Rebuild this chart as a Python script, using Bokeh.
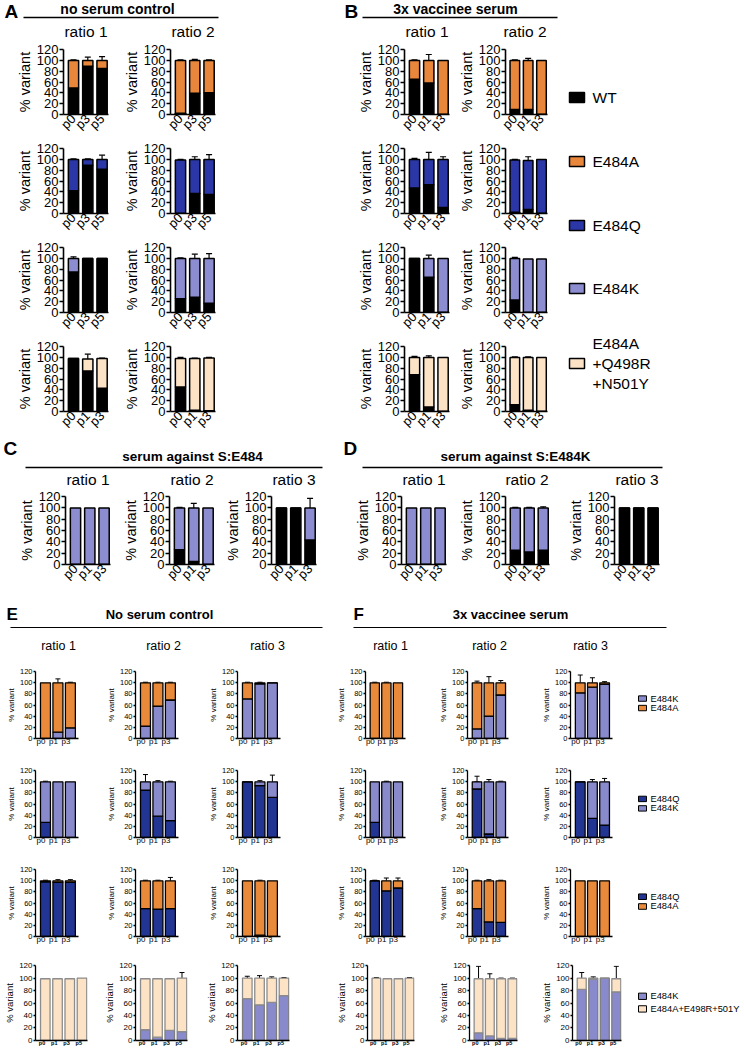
import math
from bokeh.plotting import figure
from bokeh.layouts import row, column
from bokeh.models import Range1d, FixedTicker, Whisker, TeeHead, ColumnDataSource
from bokeh.embed import file_html
from bokeh.resources import INLINE
from bokeh.core.properties import value

FONT = "Liberation Sans"

# ---------------- colours / names ----------------
COL = {"WT": "#000000", "E484A": "#E8863C", "E484Q": "#2B37A6",
       "E484K": "#8C8DD0", "TRIPLE": "#FCE3C6"}
COL_EF = {"E484A": "#E98A3B", "E484Q": "#233592", "E484K": "#898ACB",
          "TRIPLE": "#FCE3C6"}

LEGEND_AB = ["WT", "E484A", "E484Q", "E484K"]
LEGEND_AB_TRIPLE = ["E484A", "+Q498R", "+N501Y"]
LEGEND_EF = [["E484K", "E484A"], ["E484Q", "E484K"], ["E484Q", "E484A"],
             ["E484K", "E484A+E498R+501Y"]]

TITLES_AB = ["no serum control", "3x vaccinee serum"]
TITLES_CD = ["serum against S:E484", "serum against S:E484K"]
TITLES_EF = ["No serum control", "3x vaccinee serum"]
LETTERS = ["A", "B", "C", "D", "E", "F"]
RATIOS = ["ratio 1", "ratio 2", "ratio 3"]

LAB_035 = ["p0", "p3", "p5"]
LAB_013 = ["p0", "p1", "p3"]
LAB_0135 = ["p0", "p1", "p3", "p5"]

# ---------------- Panel A: no serum control (bottom = WT) ----------------
# rows: WT/E484A, WT/E484Q, WT/E484K, WT/triple
A1_wt = [[49, 89, 85], [42, 89, 82], [75, 100, 100], [98, 75, 43]]
A1_mut = [[51, 11, 15], [58, 11, 18], [25, 0, 0], [0, 22, 55]]
A1_sd_tot = [[1, 6, 7], [1, 1, 8], [3, 0, 0], [0, 9, 1]]
A1_sd_wt = [[2, 1, 5], [1, 1, 14], [5, 0, 0], [0, 9, 2]]
A2_wt = [[2, 39, 40], [0, 37, 35], [25, 28, 17], [45, 2, 1]]
A2_mut = [[98, 61, 60], [99, 63, 65], [75, 72, 83], [53, 96, 98]]
A2_sd_tot = [[1, 2, 1], [1, 5, 9], [1, 8, 9], [2, 1, 1]]
A2_sd_wt = [[1, 4, 2], [0, 6, 10], [1, 8, 9], [4, 1, 0]]

# ---------------- Panel B: 3x vaccinee serum (bottom = WT) ----------------
B1_wt = [[65, 58, 0], [47, 53, 11], [100, 65, 0], [68, 8, 0]]
B1_mut = [[35, 42, 100], [53, 47, 89], [0, 35, 100], [32, 92, 100]]
B1_sd_tot = [[1, 11, 0], [2, 13, 5], [0, 6, 0], [2, 3, 0]]
B1_sd_wt = [[1, 12, 0], [6, 14, 5], [0, 6, 0], [3, 5, 0]]
B2_wt = [[9, 9, 0], [2, 7, 0], [23, 0, 0], [12, 2, 0]]
B2_mut = [[91, 91, 100], [97, 91, 100], [77, 99, 99], [88, 98, 100]]
B2_sd_tot = [[1, 4, 0], [1, 7, 0], [2, 0, 0], [1, 1, 0]]
B2_sd_wt = [[1, 6, 0], [1, 7, 0], [2, 0, 0], [1, 1, 0]]

# ---------------- Panels C / D (bottom = WT, top = E484K) ----------------
C_wt = [[0, 0, 0], [26, 5, 0], [100, 100, 43]]
C_k = [[100, 100, 100], [74, 95, 100], [0, 0, 57]]
C_sd_tot = [[0, 0, 0], [1, 8, 0], [0, 0, 17]]
C_sd_wt = [[0, 0, 0], [1, 9, 0], [0, 0, 19]]
D_wt = [[0, 0, 0], [25, 22, 25], [100, 100, 100]]
D_k = [[100, 100, 100], [75, 78, 75], [0, 0, 0]]
D_sd_tot = [[0, 0, 0], [1, 1, 2], [0, 0, 0]]
D_sd_wt = [[0, 0, 0], [1, 1, 1], [0, 0, 0]]

# ---------------- Panel E: no serum control ----------------
# rows: E484K/E484A, E484Q/E484K, E484Q/E484A, E484K/triple ; [ratio1, ratio2, ratio3]
E_low = [[[0, 11, 19], [22, 58, 69], [71, 98, 100]],
         [[27, 0, 0], [85, 38, 30], [100, 93, 72]],
         [[98, 97, 97], [50, 49, 50], [0, 2, 0]],
         [[0, 0, 0, 0], [17, 5, 16, 14], [67, 57, 61, 72]]]
E_high = [[[100, 89, 81], [78, 42, 31], [29, 2, 0]],
          [[73, 100, 100], [15, 62, 70], [0, 7, 28]],
          [[2, 3, 3], [50, 51, 50], [100, 98, 100]],
          [[99, 99, 99, 100], [82, 94, 83, 86], [33, 43, 39, 28]]]
E_sd_tot = [[[0, 7, 1], [1, 1, 1], [1, 1, 0]],
            [[1, 0, 0], [13, 2, 1], [0, 2, 12]],
            [[1, 2, 2], [1, 1, 6], [0, 1, 0]],
            [[0, 0, 0, 0], [0, 0, 0, 9], [3, 4, 2, 1]]]
E_sd_low = [[[0, 9, 2], [1, 1, 1], [1, 1, 0]],
            [[1, 0, 0], [14, 4, 2], [0, 3, 12]],
            [[1, 1, 1], [2, 1, 7], [0, 0, 0]],
            [[0, 0, 0, 0], [1, 1, 1, 9], [3, 5, 2, 1]]]

# ---------------- Panel F: 3x vaccinee serum ----------------
F_low = [[[0, 0, 0], [17, 40, 78], [82, 92, 97]],
         [[27, 0, 0], [87, 6, 0], [100, 34, 22]],
         [[100, 82, 87], [50, 26, 25], [0, 0, 0]],
         [[0, 0, 0, 0], [12, 7, 3, 3], [82, 98, 100, 78]]]
F_high = [[[100, 100, 100], [83, 60, 22], [18, 8, 3]],
          [[73, 100, 100], [13, 94, 100], [0, 66, 78]],
          [[0, 18, 13], [50, 74, 75], [100, 100, 100]],
          [[100, 99, 99, 100], [87, 92, 96, 96], [18, 2, 0, 21]]]
F_sd_tot = [[[1, 1, 0], [3, 11, 4], [14, 9, 2]],
            [[0, 1, 0], [10, 4, 1], [0, 4, 6]],
            [[1, 5, 5], [1, 2, 1], [0, 0, 0]],
            [[1, 0, 0, 1], [20, 8, 1, 1], [9, 2, 0, 20]]]
F_sd_low = [[[0, 0, 0], [5, 12, 5], [0, 1, 2]],
            [[1, 0, 0], [13, 6, 0], [0, 4, 5]],
            [[0, 6, 6], [1, 4, 1], [0, 0, 0]],
            [[0, 0, 0, 0], [22, 8, 1, 1], [10, 0, 0, 0]]]

EF_COLORS = [("E484K", "E484A"), ("E484Q", "E484K"), ("E484Q", "E484A"), ("E484K", "TRIPLE")]
AB_MUT = ["E484A", "E484Q", "E484K", "TRIPLE"]

# ---------------- styles ----------------
ST_AB = dict(x0=-0.7, x1=0.45, bw=0.72, lw=1.5, lc="black", lc_hi="black", ew=1.2, cap=6,
             tick_fs="13px", lab_fs="14.5px", xfs="13px", xstyle="normal", rot=math.pi / 4,
             tick_len=4, tick_so=1, lab_so=1, aw=1.6, xtick_len=0, xso=2)
ST_EF = dict(x0=-0.8, x1=0.65, bw=0.8, lw=1.3, lc="black", lc_hi="black", ew=1.0, cap=5,
             tick_fs="7.5px", lab_fs="8px", xfs="8px", xstyle="normal", rot=0,
             tick_len=2, tick_so=1, lab_so=1, aw=1.3, xtick_len=0, xso=3)
ST_EF4 = dict(ST_EF, x1=0.45, bw=0.78, lc="#7d7d7d", lc_hi="#8c8c8c",
              tick_fs="8px", lab_fs="9.5px", xfs="5.5px", xstyle="bold", xso=2)


def make_bars(cell_w, cell_h, left, top, fw, fh, labels, lo, hi, sd_hi, sd_lo, c_lo, c_hi, st):
    n = len(labels)
    xs = list(range(n))
    p = figure(width=cell_w, height=cell_h,
               x_range=Range1d(st["x0"], n - 1 + st["x1"]),
               y_range=Range1d(-0.3, 120.3),
               toolbar_location=None, output_backend="svg",
               min_border_left=left, min_border_right=cell_w - left - fw,
               min_border_top=top, min_border_bottom=cell_h - top - fh)
    p.outline_line_color = None
    p.xgrid.visible = False
    p.ygrid.visible = False
    tot = [a + b for a, b in zip(lo, hi)]
    p.vbar(x=xs, width=st["bw"], bottom=0, top=lo, fill_color=c_lo,
           line_color=st["lc"], line_width=st["lw"])
    p.vbar(x=xs, width=st["bw"], bottom=lo, top=tot, fill_color=c_hi,
           line_color=st["lc_hi"], line_width=st["lw"])
    for base_vals, sds in ((tot, sd_hi), (lo, sd_lo)):
        bx, bl, bu = [], [], []
        for x, v, s in zip(xs, base_vals, sds):
            if s > 0 and v > 0:
                bx.append(x)
                bl.append(v)
                bu.append(v + s)
        if bx:
            src = ColumnDataSource(dict(x=bx, lower=bl, upper=bu))
            p.add_layout(Whisker(source=src, base="x", lower="lower", upper="upper",
                                 line_color="black", line_width=st["ew"],
                                 upper_head=TeeHead(size=st["cap"], line_color="black",
                                                    line_width=st["ew"]),
                                 lower_head=None))
    yax = p.yaxis[0]
    yax.ticker = FixedTicker(ticks=[0, 20, 40, 60, 80, 100, 120])
    yax.axis_label = "% variant"
    yax.axis_label_text_font = FONT
    yax.axis_label_text_font_style = "normal"
    yax.axis_label_text_font_size = st["lab_fs"]
    yax.axis_label_text_color = "black"
    yax.axis_label_standoff = st["lab_so"]
    yax.major_label_text_font = FONT
    yax.major_label_text_font_size = st["tick_fs"]
    yax.major_label_text_color = "black"
    yax.major_label_standoff = st["tick_so"]
    yax.major_tick_out = st["tick_len"]
    yax.major_tick_in = 0
    yax.minor_tick_line_color = None
    yax.axis_line_width = st["aw"]
    yax.major_tick_line_width = st["aw"]
    yax.axis_line_color = "black"
    yax.major_tick_line_color = "black"
    xax = p.xaxis[0]
    xax.ticker = FixedTicker(ticks=xs)
    xax.major_label_overrides = {i: lab for i, lab in enumerate(labels)}
    xax.major_label_orientation = st["rot"]
    xax.major_label_text_font = FONT
    xax.major_label_text_font_size = st["xfs"]
    xax.major_label_text_font_style = st["xstyle"]
    xax.major_label_text_color = "black"
    xax.major_label_standoff = st["xso"]
    xax.major_tick_out = st["xtick_len"]
    xax.major_tick_in = 0
    xax.minor_tick_line_color = None
    xax.axis_line_width = st["aw"]
    xax.axis_line_color = "black"
    xax.major_tick_line_color = None
    return p


def canvas(w, h):
    p = figure(width=w, height=h, x_range=Range1d(0, w), y_range=Range1d(h, 0),
               x_axis_type=None, y_axis_type=None, toolbar_location=None,
               output_backend="svg", min_border=0)
    p.outline_line_color = None
    return p


def txt(p, xs, ys, texts, size, style="normal", align="center"):
    p.text(x=xs, y=ys, text=texts, text_font=value(FONT), text_font_size=size,
           text_font_style=style, text_align=align, text_baseline="middle",
           text_color="black")


# ---------------- top header (A, B) : y 0-41 ----------------
hdr1 = canvas(744, 41)
txt(hdr1, [4, 344], [11, 11], [LETTERS[0], LETTERS[1]], "19px", "bold", "left")
txt(hdr1, [117, 455], [8, 8], TITLES_AB, "14px", "bold")
hdr1.segment(x0=[23, 362], y0=[17, 17], x1=[218, 557], y1=[17, 17],
             line_color="black", line_width=1.3)
txt(hdr1, [85.5, 192.5, 426.5, 524.5], [31] * 4,
    [RATIOS[0], RATIOS[1], RATIOS[0], RATIOS[1]], "15.5px")

# ---------------- A/B grid : y 41-437 ----------------
ab_rows = []
for r in range(4):
    labA = LAB_035 if r < 3 else LAB_013
    cmut = COL[AB_MUT[r]]
    ab_rows.append(row(
        make_bars(120, 99, 63, 8, 45, 68, labA, A1_wt[r], A1_mut[r], A1_sd_tot[r], A1_sd_wt[r], COL["WT"], cmut, ST_AB),
        make_bars(110, 99, 50, 8, 45, 68, labA, A2_wt[r], A2_mut[r], A2_sd_tot[r], A2_sd_wt[r], COL["WT"], cmut, ST_AB),
        make_bars(225, 99, 174, 8, 45, 68, LAB_013, B1_wt[r], B1_mut[r], B1_sd_tot[r], B1_sd_wt[r], COL["WT"], cmut, ST_AB),
        make_bars(105, 99, 47, 8, 45, 68, LAB_013, B2_wt[r], B2_mut[r], B2_sd_tot[r], B2_sd_wt[r], COL["WT"], cmut, ST_AB),
    ))

leg_ab = canvas(184, 396)
leg_keys = LEGEND_AB + ["TRIPLE"]
leg_y = [56, 120, 184, 247, 322]
leg_ab.quad(left=[9] * 5, right=[24] * 5, top=[y - 5 for y in leg_y], bottom=[y + 5 for y in leg_y],
            fill_color=[COL[k] for k in leg_keys], line_color="black", line_width=1.5)
txt(leg_ab, [32] * 4, leg_y[:4], LEGEND_AB, "15.5px", "normal", "left")
txt(leg_ab, [32] * 3, [302, 322, 342], LEGEND_AB_TRIPLE, "15.5px", "normal", "left")

top_block = row(column(*ab_rows), leg_ab)

# ---------------- C / D : header y 437-488, plots 488-598 ----------------
hdr2 = canvas(744, 51)
txt(hdr2, [3, 343], [11, 11], [LETTERS[2], LETTERS[3]], "19px", "bold", "left")
txt(hdr2, [192, 515], [19, 19], TITLES_CD, "13.5px", "bold")
hdr2.segment(x0=[25, 362], y0=[30, 30], x1=[322, 662], y1=[30, 30],
             line_color="black", line_width=1.3)
txt(hdr2, [87.5, 191.5, 293.5, 423.5, 526.5, 636.5], [42] * 6, RATIOS + RATIOS, "15.5px")

cd_specs = [(118, 65), (102, 51), (110, 51)]
cd_specs_d = [(125, 71), (105, 49), (184, 54)]
cd_figs = []
for i, (w, l) in enumerate(cd_specs):
    cd_figs.append(make_bars(w, 110, l, 8, 45, 68, LAB_013, C_wt[i], C_k[i], C_sd_tot[i], C_sd_wt[i],
                             COL["WT"], COL["E484K"], ST_AB))
for i, (w, l) in enumerate(cd_specs_d):
    cd_figs.append(make_bars(w, 110, l, 8, 45, 68, LAB_013, D_wt[i], D_k[i], D_sd_tot[i], D_sd_wt[i],
                             COL["WT"], COL["E484K"], ST_AB))
cd_block = row(*cd_figs)

# ---------------- E / F : header y 598-663 ----------------
hdr3 = canvas(744, 65)
txt(hdr3, [6, 353], [16, 16], [LETTERS[4], LETTERS[5]], "17px", "bold", "left")
txt(hdr3, [159, 510], [16, 16], TITLES_EF, "13px", "bold")
hdr3.segment(x0=[10, 353], y0=[29, 29], x1=[322, 666], y1=[29, 29],
             line_color="black", line_width=1.2)
txt(hdr3, [58, 163, 267, 390, 489, 590], [47] * 6, RATIOS + RATIOS, "12.5px")

ef_cells = [(100, 35), (100, 35), (133, 37), (102, 29), (103, 30), (92, 31)]
ef_heights = [99, 99, 96, 95]
ef_leg_y = [[40, 54], [42, 56], [39, 53], [39, 55]]
ef_rows = []
for r in range(4):
    h = ef_heights[r]
    fh = 67 if r < 3 else 75
    fw = 43 if r < 3 else 52
    st = ST_EF if r < 3 else ST_EF4
    labs = LAB_013 if r < 3 else LAB_0135
    c_lo = COL_EF[EF_COLORS[r][0]]
    c_hi = COL_EF[EF_COLORS[r][1]]
    figs = []
    for j, (w, l) in enumerate(ef_cells):
        if j < 3:
            lo, hi, s1, s2 = E_low[r][j], E_high[r][j], E_sd_tot[r][j], E_sd_low[r][j]
        else:
            lo, hi, s1, s2 = F_low[r][j - 3], F_high[r][j - 3], F_sd_tot[r][j - 3], F_sd_low[r][j - 3]
        figs.append(make_bars(w, h, l, 8, fw, fh, labs, lo, hi, s1, s2, c_lo, c_hi, st))
    leg = canvas(114, h)
    ly = ef_leg_y[r]
    leg.quad(left=[8, 8], right=[16, 16], top=[y - 4 for y in ly], bottom=[y + 4 for y in ly],
             fill_color=[c_lo, c_hi], line_color="black", line_width=1.0)
    txt(leg, [20, 20], ly, LEGEND_EF[r], "9.3px", "normal", "left")
    figs.append(leg)
    ef_rows.append(row(*figs))

layout = column(hdr1, top_block, hdr2, cd_block, hdr3, *ef_rows)

open("out.html", "w").write(file_html(layout, INLINE))
